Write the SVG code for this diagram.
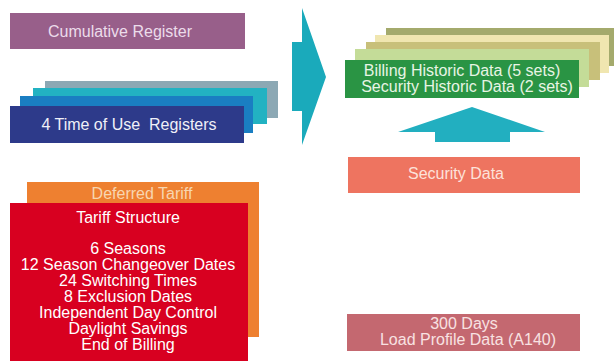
<svg xmlns="http://www.w3.org/2000/svg" width="614" height="361" viewBox="0 0 614 361">
<style>
text{font-family:"Liberation Sans",Arial,sans-serif;font-size:16px;text-anchor:middle}
</style>
<rect width="614" height="361" fill="#ffffff"/>
<g id="cumulative">
<rect x="10" y="13" width="235" height="36" fill="#985f8a"/>
<text x="120" y="37" fill="#ecdcea">Cumulative Register</text>
</g>
<g id="tou">
<rect x="45" y="81" width="233" height="37" fill="#8ca8b4"/>
<rect x="33" y="88" width="234" height="36" fill="#22b2c2"/>
<rect x="20" y="96" width="233" height="37" fill="#1a7ec2"/>
<rect x="10" y="106" width="234" height="37" fill="#2d3a8a"/>
<text x="129" y="130" fill="#f0f0f8" xml:space="preserve">4 Time of Use  Registers</text>
</g>
<g id="historic">
<rect x="386" y="28" width="234" height="38" fill="#a4aa6c"/>
<rect x="375" y="35" width="234" height="38" fill="#f0e6b0"/>
<rect x="366" y="42" width="234" height="38" fill="#c8c07a"/>
<rect x="355" y="49" width="234" height="38" fill="#c4dc98"/>
<rect x="345" y="60" width="234" height="38" fill="#2a9444"/>
<text x="462" y="76" fill="#e8f4e4">Billing Historic Data (5 sets)</text>
<text x="467" y="92" fill="#e8f4e4">Security Historic Data (2 sets)</text>
</g>
<g id="security">
<rect x="348" y="157" width="232" height="36" fill="#ee7460"/>
<text x="456" y="179" fill="#fde2da">Security Data</text>
</g>
<g id="loadprofile">
<rect x="347" y="314" width="233" height="37" fill="#c46870"/>
<text x="464" y="329" fill="#f8e2e2">300 Days</text>
<text x="468" y="345" fill="#f8e2e2">Load Profile Data (A140)</text>
</g>
<g id="deferred">
<rect x="27" y="182" width="232" height="155" fill="#ee8030"/>
<text x="142" y="199" fill="#f8d6b0">Deferred Tariff</text>
</g>
<g id="tariff">
<rect x="10" y="203" width="238" height="158" fill="#d80020"/>
<text x="128" y="223" fill="#ffffff">Tariff Structure</text>
<text x="128" y="254" fill="#ffffff">6 Seasons</text>
<text x="128" y="270" fill="#ffffff">12 Season Changeover Dates</text>
<text x="128" y="286" fill="#ffffff">24 Switching Times</text>
<text x="128" y="302" fill="#ffffff">8 Exclusion Dates</text>
<text x="128" y="318" fill="#ffffff">Independent Day Control</text>
<text x="128" y="334" fill="#ffffff">Daylight Savings</text>
<text x="128" y="350" fill="#ffffff">End of Billing</text>
</g>
<g id="connectors" fill="#1aaabb">
<polygon points="292,42 302,42 302,8 326,77 302,145 302,111 292,111"/>
<polygon points="435,142 435,132 398,132 472,107 545,132 510,132 510,142" fill="#22afc0"/>
</g>
</svg>
